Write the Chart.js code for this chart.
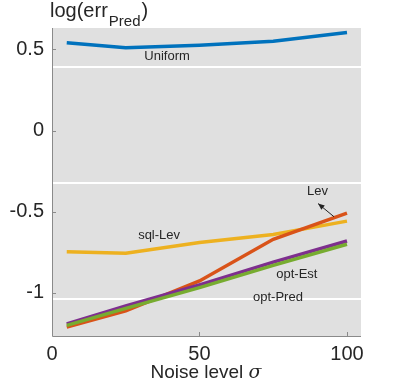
<!DOCTYPE html>
<html>
<head>
<meta charset="utf-8">
<script src="https://cdn.jsdelivr.net/npm/chart.js@4"></script>
<style>
  html, body { margin: 0; padding: 0; background: #fff; }
  #wrap { width: 399px; height: 386px; }
</style>
</head>
<body>
<div id="wrap"><canvas id="errChart"></canvas></div>
<script>
const noise = [5, 25, 50, 75, 100];
const uniform = [0.54, 0.51, 0.525, 0.55, 0.603];
const lev = [-1.21, -1.11, -0.926, -0.67, -0.508];
const sqlLev = [-0.747, -0.755, -0.69, -0.64, -0.558];
const optEst = [-1.19, -1.08, -0.95, -0.81, -0.68];
const optPred = [-1.2, -1.095, -0.967, -0.83, -0.70];

const xTicks = [0, 50, 100];
const yTicks = [-1, -0.5, 0, 0.5];
const whiteLines = [0.389, -0.321, -1.037];

const FONT = "'Liberation Sans', Arial, sans-serif";

const toPoints = (ys) => noise.map((x, i) => ({ x: x, y: ys[i] }));

// label text placed in data coordinates
const notes = [
  { text: "Uniform", x: 39, y: 0.457 },
  { text: "sql-Lev", x: 36.3, y: -0.648 },
  { text: "Lev", x: 90, y: -0.377 },
  { text: "opt-Est", x: 83, y: -0.889 },
  { text: "opt-Pred", x: 76.6, y: -1.03 },
];

const decorPlugin = {
  id: "decor",
  beforeDatasetsDraw(chart) {
    const { ctx, chartArea: a, scales } = chart;
    ctx.save();
    ctx.fillStyle = "#e0e0e0";
    ctx.fillRect(a.left, a.top, a.right - a.left, a.bottom - a.top);
    ctx.strokeStyle = "#ffffff";
    ctx.lineWidth = 2;
    whiteLines.forEach((v) => {
      const y = Math.round(scales.y.getPixelForValue(v));
      ctx.beginPath();
      ctx.moveTo(a.left, y);
      ctx.lineTo(a.right, y);
      ctx.stroke();
    });
    ctx.restore();
  },
  afterDatasetsDraw(chart) {
    const { ctx, chartArea: a, scales } = chart;
    ctx.save();
    // axis lines + inner ticks
    ctx.strokeStyle = "#8a8a8a";
    ctx.lineWidth = 1;
    ctx.beginPath();
    ctx.moveTo(a.left + 0.5, a.top);
    ctx.lineTo(a.left + 0.5, a.bottom + 0.5);
    ctx.lineTo(a.right, a.bottom + 0.5);
    ctx.stroke();
    ctx.beginPath();
    yTicks.forEach((v) => {
      const y = Math.round(scales.y.getPixelForValue(v)) + 0.5;
      ctx.moveTo(a.left, y);
      ctx.lineTo(a.left + 4, y);
    });
    xTicks.forEach((v) => {
      const x = Math.round(scales.x.getPixelForValue(v)) + 0.5;
      ctx.moveTo(x, a.bottom);
      ctx.lineTo(x, a.bottom - 4);
    });
    ctx.stroke();

    // line labels
    ctx.fillStyle = "#262626";
    ctx.font = "13px " + FONT;
    ctx.textAlign = "center";
    ctx.textBaseline = "middle";
    notes.forEach((n) => {
      ctx.fillText(n.text, scales.x.getPixelForValue(n.x), scales.y.getPixelForValue(n.y));
    });

    // arrow pointing to Lev
    const x0 = scales.x.getPixelForValue(95.6), y0 = scales.y.getPixelForValue(-0.531);
    const x1 = scales.x.getPixelForValue(90.2), y1 = scales.y.getPixelForValue(-0.45);
    ctx.strokeStyle = "#222";
    ctx.lineWidth = 1;
    ctx.beginPath();
    ctx.moveTo(x0, y0);
    ctx.lineTo(x1, y1);
    ctx.stroke();
    const ang = Math.atan2(y1 - y0, x1 - x0);
    ctx.fillStyle = "#222";
    ctx.beginPath();
    ctx.moveTo(x1, y1);
    ctx.lineTo(x1 - 7 * Math.cos(ang - 0.4), y1 - 7 * Math.sin(ang - 0.4));
    ctx.lineTo(x1 - 7 * Math.cos(ang + 0.4), y1 - 7 * Math.sin(ang + 0.4));
    ctx.closePath();
    ctx.fill();

    // y title
    ctx.fillStyle = "#262626";
    ctx.textAlign = "left";
    ctx.textBaseline = "alphabetic";
    ctx.font = "20px " + FONT;
    ctx.fillText("log(err", 50, 17);
    let w = ctx.measureText("log(err").width;
    ctx.font = "15px " + FONT;
    ctx.fillText("Pred", 50 + w + 1, 26);
    const w2 = ctx.measureText("Pred").width;
    ctx.font = "20px " + FONT;
    ctx.fillText(")", 50 + w + w2 + 2, 17);

    // x title
    ctx.font = "19px " + FONT;
    const t1 = "Noise level ";
    const tw = ctx.measureText(t1).width;
    ctx.font = "italic 19px 'DejaVu Serif', serif";
    const sw = ctx.measureText("σ").width;
    const sx = 206 - (tw + sw) / 2;
    ctx.font = "19px " + FONT;
    ctx.fillText(t1, sx, 378);
    ctx.font = "italic 19px 'DejaVu Serif', serif";
    ctx.fillText("σ", sx + tw, 378);
    ctx.restore();
  },
};

const lineSet = (label, ys, color, order) => ({
  label: label,
  data: toPoints(ys),
  borderColor: color,
  backgroundColor: color,
  borderWidth: 3.5,
  pointRadius: 0,
  tension: 0,
  order: order,
});

const errChart = new Chart(document.getElementById("errChart"), {
  type: "line",
  data: {
    datasets: [
      lineSet("Uniform", uniform, "#0072BD", 5),
      lineSet("Lev", lev, "#D95319", 3),
      lineSet("sql-Lev", sqlLev, "#EDB120", 4),
      lineSet("opt-Est", optEst, "#7E2F8E", 2),
      lineSet("opt-Pred", optPred, "#77AC30", 1),
    ],
  },
  options: {
    responsive: true,
    maintainAspectRatio: false,
    animation: false,
    layout: { padding: { top: 28, right: 38, left: 0, bottom: 0 } },
    plugins: { legend: { display: false }, tooltip: { enabled: false } },
    scales: {
      x: {
        type: "linear",
        min: 0,
        max: 104.75,
        afterBuildTicks: (s) => { s.ticks = xTicks.map((v) => ({ value: v })); },
        afterFit: (s) => { s.height = 50; },
        grid: { display: false, drawTicks: false },
        border: { display: false },
        ticks: {
          padding: 6,
          color: "#262626",
          font: { family: FONT, size: 20 },
          maxRotation: 0,
        },
      },
      y: {
        min: -1.265,
        max: 0.631,
        afterBuildTicks: (s) => { s.ticks = yTicks.map((v) => ({ value: v })); },
        afterFit: (s) => { s.width = 52; },
        grid: { display: false, drawTicks: false },
        border: { display: false },
        ticks: {
          padding: 8,
          color: "#262626",
          font: { family: FONT, size: 20 },
          callback: (v) => String(v),
        },
      },
    },
  },
  plugins: [decorPlugin],
});
</script>
</body>
</html>
